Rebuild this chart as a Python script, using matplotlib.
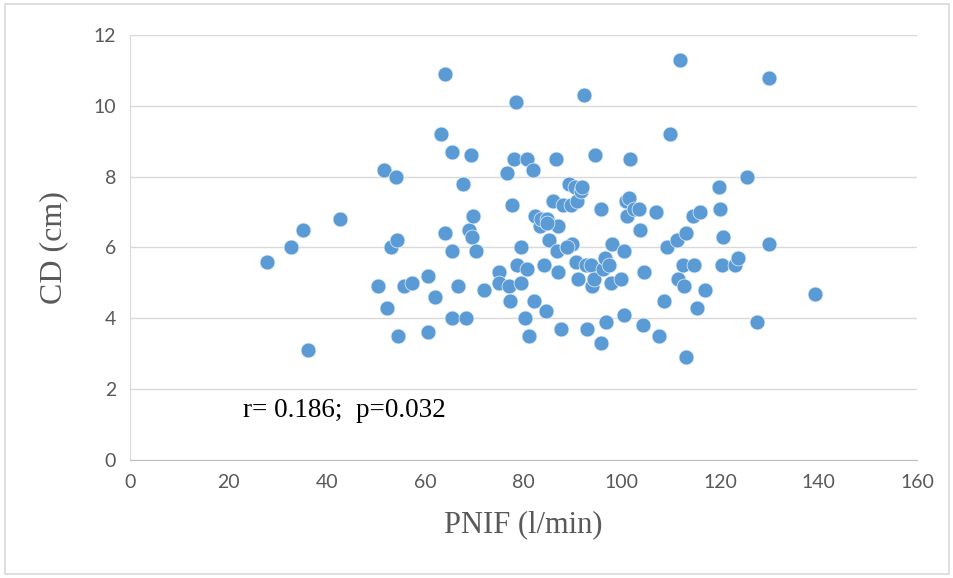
import matplotlib
matplotlib.use("Agg")
import matplotlib.pyplot as plt
from matplotlib.patches import Rectangle

# PNIF (l/min) vs CD (cm)
pnif = [27.8, 32.7, 35.2, 36.2, 42.7, 50.4, 51.6, 52.2, 53.0, 54.1,
        54.3, 54.5, 55.7, 57.3, 60.6, 60.6, 62.0, 63.2, 64.0, 64.0,
        65.4, 65.4, 65.4, 66.7, 67.7, 68.3, 68.9, 69.3, 69.5, 69.7,
        70.3, 72.0, 75.0, 75.0, 76.6, 77.0, 77.2, 77.6, 78.0, 78.5,
        78.7, 79.5, 79.5, 80.3, 80.7, 80.7, 81.1, 81.9, 82.1, 82.3,
        83.3, 83.5, 84.1, 84.6, 84.8, 85.2, 86.0, 86.6, 86.8, 87.0,
        87.0, 87.6, 88.0, 88.8, 89.2, 89.6, 89.8, 90.4, 90.7, 90.9,
        91.1, 91.7, 91.9, 92.3, 92.7, 92.9, 93.7, 93.9, 94.3, 94.5,
        95.7, 95.7, 96.1, 96.5, 96.7, 97.4, 97.8, 98.0, 99.8, 100.4,
        100.4, 100.8, 101.0, 101.4, 101.6, 102.4, 103.5, 103.7, 104.3, 104.5,
        106.9, 107.5, 108.5, 109.1, 109.8, 111.2, 111.4, 111.8, 112.4, 112.6,
        113.0, 113.0, 114.4, 114.6, 115.2, 115.9, 116.9, 119.7, 119.9, 120.3,
        120.5, 123.0, 123.6, 125.4, 127.4, 129.9, 129.9, 139.2, 88.8, 84.8]
cd = [5.6, 6.0, 6.5, 3.1, 6.8, 4.9, 8.2, 4.3, 6.0, 8.0,
      6.2, 3.5, 4.9, 5.0, 5.2, 3.6, 4.6, 9.2, 10.9, 6.4,
      8.7, 5.9, 4.0, 4.9, 7.8, 4.0, 6.5, 8.6, 6.3, 6.9,
      5.9, 4.8, 5.3, 5.0, 8.1, 4.9, 4.5, 7.2, 8.5, 10.1,
      5.5, 5.0, 6.0, 4.0, 5.4, 8.5, 3.5, 8.2, 4.5, 6.9,
      6.6, 6.8, 5.5, 4.2, 6.8, 6.2, 7.3, 8.5, 5.9, 5.3,
      6.6, 3.7, 7.2, 6.0, 7.8, 7.2, 6.1, 7.7, 5.6, 7.3,
      5.1, 7.6, 7.7, 10.3, 5.5, 3.7, 5.5, 4.9, 5.1, 8.6,
      3.3, 7.1, 5.4, 5.7, 3.9, 5.5, 5.0, 6.1, 5.1, 5.9,
      4.1, 7.3, 6.9, 7.4, 8.5, 7.1, 7.1, 6.5, 3.8, 5.3,
      7.0, 3.5, 4.5, 6.0, 9.2, 6.2, 5.1, 11.3, 5.5, 4.9,
      2.9, 6.4, 6.9, 5.5, 4.3, 7.0, 4.8, 7.7, 7.1, 5.5,
      6.3, 5.5, 5.7, 8.0, 3.9, 10.8, 6.1, 4.7, 6.0, 6.7]

xticks = [0, 20, 40, 60, 80, 100, 120, 140, 160]
yticks = [0, 2, 4, 6, 8, 10, 12]

fig = plt.figure(figsize=(9.54, 5.78), dpi=100)
ax = fig.add_axes([0.1363, 0.2042, 0.8249, 0.7352])

ax.scatter(pnif, cd, s=115, color="#5B9BD5", edgecolors="#EAF1FA",
           linewidths=0.5, zorder=3)

ax.set_xlim(0, 160)
ax.set_ylim(0, 12)
ax.set_xticks(xticks)
ax.set_yticks(yticks)
ax.grid(axis="y", color="#D9D9D9", linewidth=1.0)
ax.set_axisbelow(True)
for side in ["top", "right"]:
    ax.spines[side].set_visible(False)
ax.spines["left"].set_color("#D9D9D9")
ax.spines["bottom"].set_color("#BFBFBF")
ax.tick_params(length=0, pad=10, labelsize=14, labelcolor="#595959")
for lab in ax.get_xticklabels() + ax.get_yticklabels():
    lab.set_fontfamily("Lato")

ax.set_xlabel("PNIF (l/min)", fontfamily="Liberation Serif", fontsize=22,
              color="#595959", labelpad=14)
ax.set_ylabel("CD (cm)", fontfamily="Liberation Serif", fontsize=23,
              color="#595959", labelpad=18)

ax.text(23, 1.4, "r= 0.186;  p=0.032", fontfamily="Liberation Serif",
        fontsize=19.5, color="black", va="center", ha="left")

fig.patches.append(Rectangle((0.005, 0.007), 0.99, 0.986, transform=fig.transFigure,
                             fill=False, edgecolor="#D9D9D9", linewidth=1.2))

fig.savefig("out.png", dpi=100)
